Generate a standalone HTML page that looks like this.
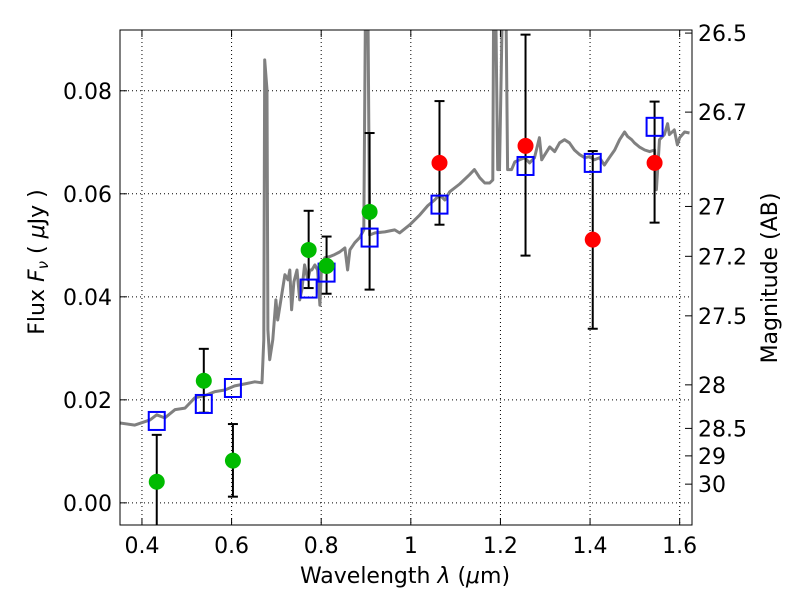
<!DOCTYPE html>
<html><head><meta charset="utf-8"><style>
body{margin:0;background:#fff;}
svg text{font-family:"DejaVu Sans","Liberation Sans",sans-serif;fill:#000;}
</style></head><body>
<svg id="chart" width="800" height="600" xmlns="http://www.w3.org/2000/svg">
<defs><clipPath id="clip"><rect x="120" y="30" width="572" height="495"/></clipPath></defs>
<rect x="0" y="0" width="800" height="600" fill="#fff"/>
<g id="grid"></g>
<g id="plot" clip-path="url(#clip)"></g>
<rect x="120" y="30" width="572" height="495" fill="none" stroke="#000" stroke-width="1"/>
<g id="axes"></g>
<text x="405" y="583" font-size="22" text-anchor="middle">Wavelength  <tspan font-style="italic">λ</tspan> (<tspan font-style="italic">μ</tspan>m)</text>
<text transform="translate(44,262) rotate(-90)" font-size="22" text-anchor="middle">Flux  <tspan font-style="italic">F<tspan font-size="15" dy="4">ν</tspan></tspan><tspan dy="-4">  ( </tspan><tspan font-style="italic">μ</tspan>Jy )</text>
<text transform="translate(777,278) rotate(-90)" font-size="22" text-anchor="middle">Magnitude (AB)</text>
</svg>
<script>
const xTicks=[0.4,0.6,0.8,1.0,1.2,1.4,1.6];
const xTickLabels=["0.4","0.6","0.8","1","1.2","1.4","1.6"];
const yTicks=[0,0.02,0.04,0.06,0.08];
const yTickLabels=["0.00","0.02","0.04","0.06","0.08"];
const magTicks=[26.5,26.7,27,27.2,27.5,28,28.5,29,30];
const magLabels=["26.5","26.7","27","27.2","27.5","28","28.5","29","30"];
const specLam=[0.351,0.384,0.418,0.433,0.451,0.474,0.496,0.518,0.540,0.563,0.585,0.607,0.630,0.652,0.668,0.672,0.674,0.679,0.681,0.685,0.692,0.699,0.703,0.710,0.719,0.726,0.730,0.734,0.739,0.746,0.752,0.757,0.763,0.770,0.775,0.779,0.786,0.792,0.797,0.801,0.808,0.819,0.830,0.841,0.853,0.859,0.864,0.875,0.886,0.895,0.899,0.904,0.908,0.920,0.942,0.964,0.975,0.998,1.020,1.038,1.053,1.064,1.076,1.087,1.109,1.131,1.142,1.154,1.165,1.176,1.183,1.185,1.189,1.194,1.198,1.205,1.212,1.216,1.225,1.232,1.243,1.254,1.265,1.276,1.287,1.292,1.299,1.310,1.321,1.332,1.343,1.354,1.365,1.377,1.388,1.399,1.410,1.421,1.432,1.443,1.455,1.466,1.477,1.484,1.493,1.499,1.510,1.522,1.533,1.544,1.548,1.555,1.566,1.573,1.577,1.588,1.595,1.600,1.611,1.622];
const specFlux=[0.0155,0.0151,0.0161,0.0171,0.0165,0.0181,0.0184,0.0204,0.0208,0.0216,0.0219,0.0227,0.0231,0.0235,0.0233,0.0317,0.086,0.0802,0.0336,0.0278,0.0317,0.0394,0.0355,0.0394,0.0443,0.0433,0.0452,0.0375,0.0429,0.0452,0.0394,0.0414,0.0462,0.0433,0.0452,0.0452,0.0462,0.0452,0.0384,0.0462,0.0476,0.0478,0.0482,0.0487,0.0495,0.0452,0.0491,0.0505,0.0515,0.053,0.1,0.1,0.052,0.0524,0.0526,0.053,0.0524,0.054,0.0559,0.0577,0.0588,0.0598,0.0588,0.0604,0.0619,0.0637,0.0647,0.0631,0.0621,0.0621,0.0627,0.1,0.1,0.0647,0.0647,0.1,0.1,0.0647,0.0647,0.0662,0.0666,0.067,0.066,0.067,0.0709,0.0666,0.0676,0.0691,0.0682,0.0699,0.0705,0.0699,0.0685,0.0676,0.067,0.0672,0.0666,0.067,0.0656,0.067,0.0685,0.0705,0.072,0.0711,0.0705,0.0699,0.0691,0.0685,0.0682,0.0685,0.0608,0.0705,0.0715,0.0736,0.0715,0.0724,0.0695,0.0709,0.072,0.0718];
const bandLam=[0.433,0.538,0.603,0.772,0.812,0.908,1.064,1.256,1.406,1.544];
const obsFlux=[0.0041,0.0237,0.0082,0.0491,0.046,0.0565,0.066,0.0693,0.0511,0.066];
const obsDetected=[1,1,1,1,1,1,0,0,0,0];
const errHi=[0.0132,0.0299,0.0153,0.0567,0.0517,0.0718,0.078,0.0909,0.0683,0.0779];
const errLo=[-0.01,0.0175,0.0012,0.0417,0.0406,0.0414,0.054,0.048,0.0338,0.0544];
const modelFlux=[0.0159,0.0192,0.0223,0.0416,0.0447,0.0515,0.0579,0.0654,0.066,0.073];

const NS="http://www.w3.org/2000/svg";
const X0=120,X1=692,Y0=30,Y1=525;
const xmin=0.351,xmax=1.6275,ymin=-0.0043,ymax=0.0918;
const sx=v=>X0+(v-xmin)/(xmax-xmin)*(X1-X0);
const sy=v=>Y1-(v-ymin)/(ymax-ymin)*(Y1-Y0);
function mk(tag,attrs,parent){const e=document.createElementNS(NS,tag);for(const k in attrs)e.setAttribute(k,attrs[k]);parent.appendChild(e);return e;}
const grid=document.getElementById('grid'),plot=document.getElementById('plot'),axes=document.getElementById('axes');
xTicks.forEach((t,i)=>{const x=sx(t);
 let g=mk('line',{x1:x,x2:x,y1:Y0,y2:Y1,stroke:'#000','stroke-width':1,'stroke-dasharray':'1,3'},grid);
 
 
 mk('line',{x1:x,x2:x,y1:Y1,y2:Y1-7,stroke:'#000'},axes);
 mk('line',{x1:x,x2:x,y1:Y0,y2:Y0+7,stroke:'#000'},axes);
 let l=mk('text',{x:x,y:Y1+28,'font-size':22,'text-anchor':'middle'},axes);l.textContent=xTickLabels[i];
 
 
});
yTicks.forEach((t,i)=>{const y=sy(t);
 let g=mk('line',{x1:X0,x2:X1,y1:y,y2:y,stroke:'#000','stroke-width':1,'stroke-dasharray':'1,3'},grid);
 
 
 mk('line',{x1:X0,x2:X0+7,y1:y,y2:y,stroke:'#000'},axes);
 let l=mk('text',{x:X0-8,y:y+8,'font-size':22,'text-anchor':'end'},axes);l.textContent=yTickLabels[i];
 
 
});
magTicks.forEach((m,i)=>{const f=Math.pow(10,(23.9-m)/2.5);const y=sy(f);
 mk('line',{x1:X1,x2:X1-7,y1:y,y2:y,stroke:'#000'},axes);
 let l=mk('text',{x:X1+6,y:y+8,'font-size':22},axes);l.textContent=magLabels[i];
 
 
});
let d=specLam.map((l,i)=>(i?'L':'M')+sx(l).toFixed(1)+','+sy(specFlux[i]).toFixed(1)).join('');
let sp=mk('path',{d:d,fill:'none',stroke:'#808080','stroke-width':3,'stroke-linejoin':'round'},plot);


bandLam.forEach((l,i)=>{const x=sx(l);
 let e=mk('g',{},plot);
 
 
 const yh=sy(errHi[i]),yl=sy(errLo[i]);
 mk('line',{x1:x,x2:x,y1:yh,y2:yl,stroke:'#000','stroke-width':2},e);
 mk('line',{x1:x-5,x2:x+5,y1:yh,y2:yh,stroke:'#000','stroke-width':2},e);
 mk('line',{x1:x-5,x2:x+5,y1:yl,y2:yl,stroke:'#000','stroke-width':2},e);
});
bandLam.forEach((l,i)=>{const x=sx(l),y=sy(modelFlux[i]);
 let r=mk('rect',{x:x-8,y:y-9,width:16,height:18,fill:'none',stroke:'#0000ff','stroke-width':2},plot);
 
 
});
bandLam.forEach((l,i)=>{
 let c=mk('circle',{cx:sx(l),cy:sy(obsFlux[i]),r:8,fill:obsDetected[i]?'#00bb00':'#ff0000'},plot);
 
 
});
</script>
</body></html>
